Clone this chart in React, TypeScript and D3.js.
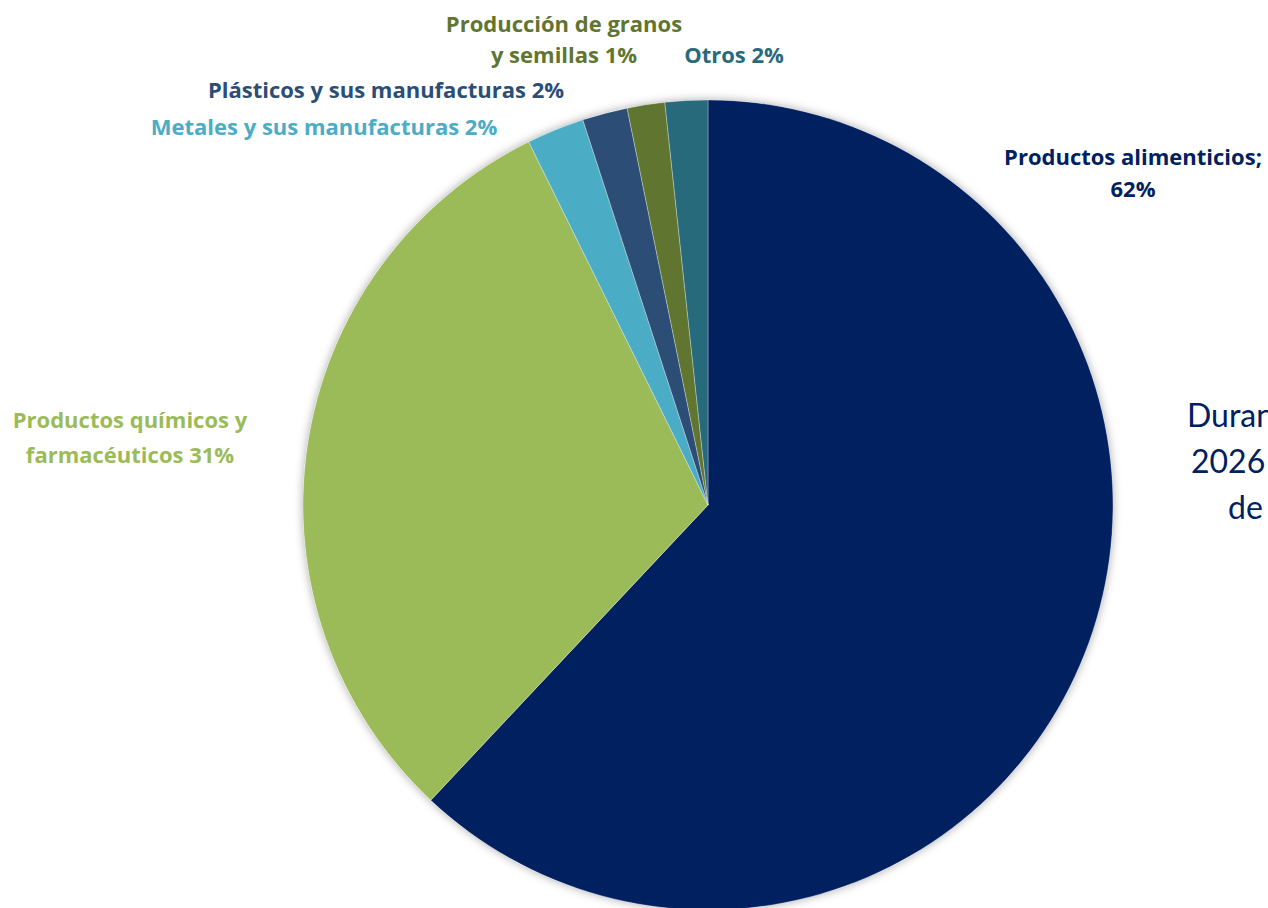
import React from "react";
import * as d3 from "d3";

const categories = [
  "Productos alimenticios",
  "Productos químicos y farmacéuticos",
  "Metales y sus manufacturas",
  "Plásticos y sus manufacturas",
  "Producción de granos y semillas",
  "Otros",
];
const shares = [62.0, 30.7, 2.3, 1.8, 1.5, 1.7];
const labelLines = [
  ["Productos alimenticios;", "62%"],
  ["Productos químicos y", "farmacéuticos 31%"],
  ["Metales y sus manufacturas 2%"],
  ["Plásticos y sus manufacturas 2%"],
  ["Producción de granos", "y semillas 1%"],
  ["Otros 2%"],
];
const sideText = ["Durante", "2026", "de"];

const colors = ["#002060", "#9BBB59", "#4BACC6", "#2C4D75", "#5F7530", "#276A7C"];
const labelColors = ["#002060", "#9BBB59", "#4BACC6", "#2C4D75", "#5F7530", "#276A7C"];
// label layout: center x, first baseline y, line gap
const labelPos: [number, number, number][] = [
  [1133, 165, 32],
  [130, 428, 35],
  [324, 135, 0],
  [386, 98, 0],
  [564, 32, 31],
  [734, 63, 0],
];

const W = 1268;
const H = 908;
const cx = 708;
const cy = 505;
const R = 405;
const FONT = "'Open Sans', Lato, sans-serif";
const SIDE_FONT = "Lato, 'Open Sans', sans-serif";

export default function App() {
  const pie = d3
    .pie<number>()
    .sort(null)
    .value((d) => d)
    .startAngle(0)
    .endAngle(2 * Math.PI);
  const arcs = pie(shares);
  const arcGen = d3.arc<d3.PieArcDatum<number>>().innerRadius(0).outerRadius(R);

  return (
    <svg
      width={W}
      height={H}
      style={{ position: "fixed", left: 0, top: 0, background: "#fff" }}
    >
      <defs>
        <filter id="sh" x="-10%" y="-10%" width="120%" height="120%">
          <feDropShadow dx="0" dy="0" stdDeviation="5" floodColor="#000" floodOpacity="0.35" />
        </filter>
      </defs>
      <g transform={`translate(${cx},${cy})`}>
        <circle r={R} fill="#fff" filter="url(#sh)" />
        {arcs.map((a, i) => (
          <path
            key={categories[i]}
            d={arcGen(a) || ""}
            fill={colors[i]}
            stroke="#fff"
            strokeWidth={0.6}
            strokeOpacity={0.5}
          />
        ))}
      </g>
      {labelLines.map((lines, i) => (
        <text
          key={"l" + i}
          x={labelPos[i][0]}
          y={labelPos[i][1]}
          textAnchor="middle"
          fontFamily={FONT}
          fontWeight={700}
          fontSize={22}
          fill={labelColors[i]}
        >
          {lines.map((ln, j) => (
            <tspan key={j} x={labelPos[i][0]} dy={j === 0 ? 0 : labelPos[i][2]}>
              {ln}
            </tspan>
          ))}
        </text>
      ))}
      {sideText.map((t, i) => (
        <text
          key={"s" + i}
          x={[1187, 1191, 1228][i]}
          y={427 + i * 46}
          fontFamily={SIDE_FONT}
          fontSize={32}
          fill="#002060"
        >
          {t}
        </text>
      ))}
    </svg>
  );
}
